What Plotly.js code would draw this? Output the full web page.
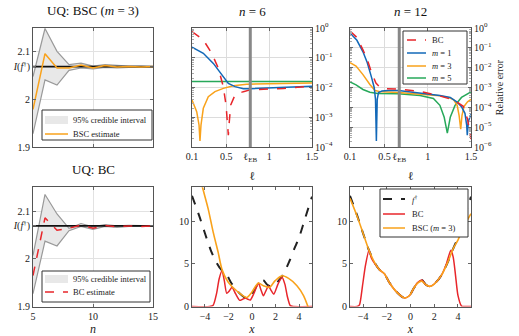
<!DOCTYPE html>
<html>
<head>
<meta charset="utf-8">
<script src="https://cdn.plot.ly/plotly-3.0.1.min.js"></script>
<style>html,body{margin:0;padding:0;background:#fff}</style>
</head>
<body>
<div id="plotArea" style="width:519px;height:336px"></div>
<script>
// ---- UQ panels (n on x axis) ----
var n = [5, 6, 7, 8, 9, 10, 11, 12, 13, 14, 15];
var I_true = 2.069;
var bscUpper = [2.048, 2.149, 2.101, 2.073, 2.076, 2.070, 2.073, 2.071, 2.070, 2.070, 2.069];
var bscLower = [1.928, 2.041, 2.030, 2.061, 2.066, 2.064, 2.067, 2.066, 2.067, 2.068, 2.068];
var bscEst   = [1.979, 2.096, 2.066, 2.066, 2.072, 2.066, 2.071, 2.068, 2.069, 2.068, 2.069];
var bcUpper  = [2.007, 2.135, 2.094, 2.064, 2.074, 2.067, 2.072, 2.069, 2.070, 2.069, 2.069];
var bcLower  = [1.927, 2.037, 2.027, 2.059, 2.068, 2.062, 2.068, 2.066, 2.068, 2.068, 2.068];
var bcEst    = [1.965, 2.086, 2.060, 2.064, 2.071, 2.064, 2.070, 2.067, 2.069, 2.068, 2.069];

// ---- relative error vs lengthscale (log10 of relative error) ----
var lEB6 = 0.78, lEB12 = 0.67;
var l6_bc = [0.1, 0.232, 0.33, 0.407, 0.465, 0.497, 0.512, 0.524, 0.535, 0.552, 0.602, 0.699, 0.777, 0.97, 1.165, 1.5];
var e6_bc = [-0.12, -0.40, -0.85, -1.35, -1.97, -2.59, -3.15, -3.6, -3.15, -2.59, -2.25, -2.14, -2.08, -2.06, -2.03, -1.95];
var l6_m1 = [0.1, 0.232, 0.349, 0.447, 0.524, 0.602, 0.699, 0.777, 0.97, 1.165, 1.5];
var e6_m1 = [-0.64, -0.85, -1.19, -1.58, -1.86, -1.97, -2.04, -2.04, -2.02, -1.99, -1.96];
var l6_m3 = [0.1, 0.155, 0.182, 0.193, 0.205, 0.232, 0.29, 0.368, 0.465, 0.582, 0.738, 1.0, 1.5];
var e6_m3 = [-2.42, -2.81, -3.26, -3.8, -3.26, -2.70, -2.31, -2.14, -2.03, -1.94, -1.89, -1.87, -1.85];
var l6_m5 = [0.1, 1.5];
var e6_m5 = [-1.80, -1.80];

var l12_bc = [0.1, 0.18, 0.25, 0.3, 0.35, 0.4, 0.45, 0.52, 0.66, 0.91, 1.1, 1.3, 1.41, 1.46, 1.5];
var e12_bc = [-0.15, -0.48, -1.1, -1.6, -2.25, -2.78, -3.0, -3.06, -3.08, -3.2, -3.38, -3.63, -3.95, -4.6, -5.6];
var l12_m1 = [0.1, 0.18, 0.25, 0.3, 0.35, 0.38, 0.395, 0.405, 0.415, 0.43, 0.47, 0.54, 0.66, 0.91, 1.14, 1.26, 1.335, 1.39, 1.43, 1.45, 1.457, 1.47, 1.5];
var e12_m1 = [-0.25, -0.62, -1.2, -1.75, -2.5, -3.0, -3.6, -5.7, -3.6, -3.25, -3.18, -3.15, -3.15, -3.27, -3.4, -3.5, -3.72, -3.97, -4.3, -4.9, -5.4, -4.7, -4.35];
var l12_m3 = [0.1, 0.17, 0.25, 0.33, 0.39, 0.46, 0.66, 0.91, 1.14, 1.25, 1.3, 1.34, 1.362, 1.381, 1.396, 1.42, 1.46, 1.5];
var e12_m3 = [-1.75, -1.92, -2.35, -2.85, -3.15, -3.22, -3.25, -3.32, -3.42, -3.52, -3.62, -3.9, -4.4, -5.1, -4.4, -3.95, -3.72, -3.6];
var l12_m5 = [0.1, 0.17, 0.25, 0.33, 0.42, 0.66, 0.91, 1.065, 1.14, 1.19, 1.226, 1.26, 1.315, 1.39, 1.5];
var e12_m5 = [-2.72, -2.87, -3.1, -3.24, -3.3, -3.32, -3.4, -3.55, -3.9, -4.5, -5.3, -4.5, -3.9, -3.5, -3.22];

// ---- integrand and its emulators ----
var xf   = [-5.1, -4.5, -4, -3.5, -3, -2.6, -2.2, -1.8, -1.2, -0.5, -0.1, 0.3, 0.6, 0.95, 1.3, 1.6, 2, 2.6, 3.2, 3.6, 4, 4.5, 5.1];
var fdag = [13.0, 10.7, 8.6, 6.6, 5.1, 4.3, 3.85, 2.85, 1.75, 1.0, 1.26, 2.2, 2.8, 3.1, 2.55, 2.36, 2.64, 3.65, 5.4, 6.8, 8.1, 10.3, 12.9];
var x_bsc6 = [-5.1, -4.6, -4.21, -3.73, -3.3, -2.88, -2.54, -2.02, -1.31, -0.46, -0.03, 0.54, 0.97, 1.48, 1.97, 2.54, 3.11, 3.82, 4.39, 4.73, 5.1];
var y_bsc6 = [19.5, 16.2, 14.0, 11.5, 8.74, 6.38, 4.3, 2.84, 1.85, 1.06, 1.65, 2.75, 2.44, 2.25, 3.03, 3.6, 3.3, 2.44, 1.26, 0.08, -1.6];
var x_bc6 = [-5.1, -3.6, -3.3, -3.0, -2.8, -2.55, -2.35, -2.15, -1.95, -1.7, -1.4, -1.05, -0.8, -0.55, -0.35, -0.15, 0.15, 0.55, 0.75, 0.97, 1.2, 1.4, 1.62, 1.85, 2.2, 2.55, 2.8, 3.0, 3.25, 3.5, 5.1];
var y_bc6 = [0, 0, 0.15, 1.6, 3.2, 4.2, 3.0, 1.55, 1.8, 2.25, 1.5, 0.72, 0.85, 1.0, 0.85, 0.75, 1.5, 2.75, 2.0, 1.25, 1.9, 2.4, 1.9, 1.45, 2.6, 3.45, 2.6, 1.2, 0.1, 0, 0];
var x_bc12 = [-5.1, -4.5, -4.3, -4.05, -3.8, -3.5, -3.3, -3, -2.6, -2.2, -1.8, -1.2, -0.5, -0.1, 0.3, 0.6, 0.95, 1.3, 1.6, 2, 2.6, 3.0, 3.4, 3.6, 3.8, 4.0, 4.3, 4.6, 5.1];
var y_bc12 = [0, 0, 0.2, 2.4, 4.8, 6.6, 5.7, 5.0, 4.3, 3.85, 2.85, 1.75, 1.0, 1.26, 2.2, 2.8, 3.1, 2.55, 2.36, 2.64, 3.65, 4.9, 6.6, 5.8, 3.6, 1.3, 0.05, 0, 0];
var y_bsc12 = [12.7, 10.6, 8.6, 6.6, 5.1, 4.3, 3.85, 2.85, 1.75, 1.0, 1.26, 2.2, 2.75, 2.98, 2.55, 2.36, 2.64, 3.65, 5.4, 6.8, 7.8, 9.4, 10.9];

var RED = "#e8262b", ORANGE = "#f9a21b", BLUE = "#1268b8", GREEN = "#27a85a";
var FONT = "Liberation Serif, Times New Roman, serif";

function pow10(a) { return a.map(function (v) { return Math.pow(10, v); }); }

var data = [];
function band(lo, up, xa, ya) {
    data.push({x: n, y: lo, xaxis: xa, yaxis: ya, mode: "lines", line: {color: "#999", width: 1.2}});
    data.push({x: n, y: up, xaxis: xa, yaxis: ya, mode: "lines", fill: "tonexty", fillcolor: "#e8e8e8",
        line: {color: "#999", width: 1.2}, name: "95% credible interval"});
    data.push({x: [n[0], n[n.length - 1]], y: [I_true, I_true], xaxis: xa, yaxis: ya, mode: "lines",
        line: {color: "#111", width: 1.7}});
}
band(bscLower, bscUpper, "x", "y");
data.push({x: n, y: bscEst, xaxis: "x", yaxis: "y", mode: "lines", line: {color: ORANGE, width: 1.5}, name: "BSC estimate"});
band(bcLower, bcUpper, "x4", "y4");
data.push({x: n, y: bcEst, xaxis: "x4", yaxis: "y4", mode: "lines", line: {color: RED, width: 1.5, dash: "dash"}, name: "BC estimate"});

// n = 6
data.push({x: l6_m5, y: pow10(e6_m5), xaxis: "x2", yaxis: "y2", mode: "lines", line: {color: GREEN, width: 1.6}});
data.push({x: l6_m3, y: pow10(e6_m3), xaxis: "x2", yaxis: "y2", mode: "lines", line: {color: ORANGE, width: 1.5}});
data.push({x: l6_m1, y: pow10(e6_m1), xaxis: "x2", yaxis: "y2", mode: "lines", line: {color: BLUE, width: 1.5}});
data.push({x: l6_bc, y: pow10(e6_bc), xaxis: "x2", yaxis: "y2", mode: "lines", line: {color: RED, width: 1.5, dash: "dash"}});
// n = 12
data.push({x: l12_m5, y: pow10(e12_m5), xaxis: "x3", yaxis: "y3", mode: "lines", line: {color: GREEN, width: 1.5}});
data.push({x: l12_m3, y: pow10(e12_m3), xaxis: "x3", yaxis: "y3", mode: "lines", line: {color: ORANGE, width: 1.5}});
data.push({x: l12_m1, y: pow10(e12_m1), xaxis: "x3", yaxis: "y3", mode: "lines", line: {color: BLUE, width: 1.5}});
data.push({x: l12_bc, y: pow10(e12_bc), xaxis: "x3", yaxis: "y3", mode: "lines", line: {color: RED, width: 1.5, dash: "dash"}});

// integrand panels
data.push({x: xf, y: fdag, xaxis: "x5", yaxis: "y5", mode: "lines", line: {color: "#222", width: 2, dash: "dash", shape: "spline", smoothing: 0.8}});
data.push({x: x_bc6, y: y_bc6, xaxis: "x5", yaxis: "y5", mode: "lines", line: {color: RED, width: 1.5, shape: "spline", smoothing: 0.6}});
data.push({x: x_bsc6, y: y_bsc6, xaxis: "x5", yaxis: "y5", mode: "lines", line: {color: ORANGE, width: 1.6, shape: "spline", smoothing: 0.8}});
data.push({x: xf, y: fdag, xaxis: "x6", yaxis: "y6", mode: "lines", line: {color: "#222", width: 2, dash: "dash", shape: "spline", smoothing: 0.8}});
data.push({x: x_bc12, y: y_bc12, xaxis: "x6", yaxis: "y6", mode: "lines", line: {color: RED, width: 1.5, shape: "spline", smoothing: 0.6}});
data.push({x: xf, y: y_bsc12, xaxis: "x6", yaxis: "y6", mode: "lines", line: {color: ORANGE, width: 1.6, shape: "spline", smoothing: 0.8}});

function ax(extra) {
    var a = {showline: true, linecolor: "#555", linewidth: 1, mirror: "ticks", ticks: "inside", ticklen: 3, tickangle: 0,
        tickcolor: "#666", zeroline: false, showgrid: false, tickfont: {family: FONT, size: 10, color: "#222"}};
    for (var k in extra) a[k] = extra[k];
    return a;
}
var px = function (v) { return v / 519; };
var py = function (v) { return 1 - v / 336; };
var rowTop = [py(147), py(28)], rowBot = [py(306.5), py(187.3)];
var c1 = [px(33), px(153)], c2 = [px(192), px(312)], c3 = [px(350), px(471)];
var uqY = {range: [1.9, 2.15], tickvals: [1.9, 2, I_true, 2.1], ticktext: ["1.9", "2", "<i>I</i>(<i>f</i><sup>†</sup>)", "2.1"],
    showgrid: true, gridcolor: "#e2e2e2"};
var errTicks = [1, 0.1, 0.01, 1e-3, 1e-4, 1e-5, 1e-6];
var errText = ["10<sup>0</sup>", "10<sup>−1</sup>", "10<sup>−2</sup>", "10<sup>−3</sup>", "10<sup>−4</sup>", "10<sup>−5</sup>", "10<sup>−6</sup>"];
var minorLog = {ticks: "inside", ticklen: 2, tickcolor: "#aaa", dtick: "D1", showgrid: false};
var titleFont = {family: FONT, size: 13, color: "#111"};
var axTitleFont = {family: FONT, size: 12, color: "#222"};

var shapes = [
    {type: "line", xref: "x2", yref: "y2 domain", x0: lEB6, x1: lEB6, y0: 0, y1: 1, line: {color: "#888", width: 3}},
    {type: "line", xref: "x3", yref: "y3 domain", x0: lEB12, x1: lEB12, y0: 0, y1: 1, line: {color: "#888", width: 3}}
];
function title(text, x, y) {
    return {text: text, x: px(x), y: py(y), xref: "paper", yref: "paper", xanchor: "center", yanchor: "middle",
        showarrow: false, font: titleFont};
}
var annotations = [
    title("UQ: BSC (<i>m</i> = 3)", 93, 11),
    title("UQ: BC", 93, 169),
    title("<i>n</i> = 6", 252, 12),
    title("<i>n</i> = 12", 410, 12)
];
// legends: box + sample line + label, placed in figure pixels
function legendBox(b, sx, tx, rows) {
    shapes.push({type: "rect", xref: "paper", yref: "paper", x0: px(b[0]), x1: px(b[2]), y0: py(b[1]), y1: py(b[3]),
        fillcolor: "#fff", line: {color: "#333", width: 1}});
    rows.forEach(function (r) {
        if (r.fill) {
            shapes.push({type: "rect", xref: "paper", yref: "paper", x0: px(sx[0]), x1: px(sx[1]), y0: py(r.y - 4), y1: py(r.y + 4),
                fillcolor: r.fill, line: {color: "#e8e8e8", width: 0}});
        } else {
            shapes.push({type: "line", xref: "paper", yref: "paper", x0: px(sx[0]), x1: px(sx[1]), y0: py(r.y), y1: py(r.y),
                line: {color: r.color, width: r.width || 1.5, dash: r.dash || "solid"}});
        }
        annotations.push({text: r.label, x: px(tx), y: py(r.y), xref: "paper", yref: "paper", xanchor: "left", yanchor: "middle",
            showarrow: false, font: {family: FONT, size: 8.5, color: "#222"}});
    });
}
legendBox([42, 110, 152, 140], [45, 68], 71, [
    {y: 120, label: "95% credible interval", fill: "#e8e8e8"},
    {y: 134, label: "BSC estimate", color: ORANGE}]);
legendBox([42, 271, 150, 302], [45, 68], 71, [
    {y: 279, label: "95% credible interval", fill: "#e8e8e8"},
    {y: 292, label: "BC estimate", color: RED, dash: "dash"}]);
legendBox([403, 31, 467, 84], [407, 426], 430, [
    {y: 40, label: "BC", color: RED, dash: "dash"},
    {y: 53, label: "<i>m</i> = 1", color: BLUE},
    {y: 66, label: "<i>m</i> = 3", color: ORANGE},
    {y: 78, label: "<i>m</i> = 5", color: GREEN}]);
legendBox([380, 189, 468, 237], [383, 405], 410, [
    {y: 199, label: "<i>f</i><sup>†</sup>", color: "#222", dash: "dash", width: 2},
    {y: 214, label: "BC", color: RED},
    {y: 228, label: "BSC (<i>m</i> = 3)", color: ORANGE}]);

var layout = {
    width: 519, height: 336, margin: {l: 0, r: 0, t: 0, b: 0}, showlegend: false,
    paper_bgcolor: "#fff", plot_bgcolor: "#fff", font: {family: FONT, size: 10, color: "#222"},
    xaxis: ax({domain: c1, anchor: "y", range: [5, 15], tickvals: [5, 10, 15], showticklabels: false, showgrid: true, gridcolor: "#e2e2e2"}),
    yaxis: ax(Object.assign({domain: rowTop, anchor: "x"}, uqY)),
    xaxis4: ax({domain: c1, anchor: "y4", range: [5, 15], tickvals: [5, 10, 15], showgrid: true, gridcolor: "#e2e2e2",
        title: {text: "<i>n</i>", font: axTitleFont, standoff: 5}}),
    yaxis4: ax(Object.assign({domain: rowBot, anchor: "x4"}, uqY)),
    xaxis2: ax({domain: c2, anchor: "y2", range: [0.1, 1.5], tickvals: [0.1, 0.5, lEB6, 1, 1.5],
        ticktext: ["0.1", "0.5", "ℓ<sub>EB</sub>", "1", "1.5"], showgrid: true, gridcolor: "#dcdcdc",
        title: {text: "ℓ", font: axTitleFont, standoff: 8}}),
    yaxis2: ax({domain: rowTop, anchor: "x2", type: "log", range: [-4, 0], side: "right", tickvals: errTicks, ticktext: errText,
        showgrid: true, gridcolor: "#dcdcdc", minor: minorLog}),
    xaxis3: ax({domain: c3, anchor: "y3", range: [0.1, 1.5], tickvals: [0.1, 0.5, lEB12, 1, 1.5],
        ticktext: ["0.1", "0.5", "ℓ<sub>EB</sub>", "1", "1.5"], showgrid: true, gridcolor: "#dcdcdc",
        title: {text: "ℓ", font: axTitleFont, standoff: 8}}),
    yaxis3: ax({domain: rowTop, anchor: "x3", type: "log", range: [-6, 0], side: "right", tickvals: errTicks, ticktext: errText,
        showgrid: true, gridcolor: "#dcdcdc", minor: minorLog,
        title: {text: "Relative error", font: {family: FONT, size: 10}, standoff: 5}}),
    xaxis5: ax({domain: c2, anchor: "y5", range: [-5.1, 5.1], tickvals: [-4, -2, 0, 2, 4],
        title: {text: "<i>x</i>", font: axTitleFont, standoff: 5}}),
    yaxis5: ax({domain: rowBot, anchor: "x5", range: [0, 14], tickvals: [0, 5, 10]}),
    xaxis6: ax({domain: c3, anchor: "y6", range: [-5.1, 5.1], tickvals: [-4, -2, 0, 2, 4],
        title: {text: "<i>x</i>", font: axTitleFont, standoff: 5}}),
    yaxis6: ax({domain: rowBot, anchor: "x6", range: [0, 14], tickvals: [0, 5, 10]}),
    shapes: shapes,
    annotations: annotations
};

Plotly.newPlot("plotArea", data, layout, {staticPlot: true});
</script>
</body>
</html>
